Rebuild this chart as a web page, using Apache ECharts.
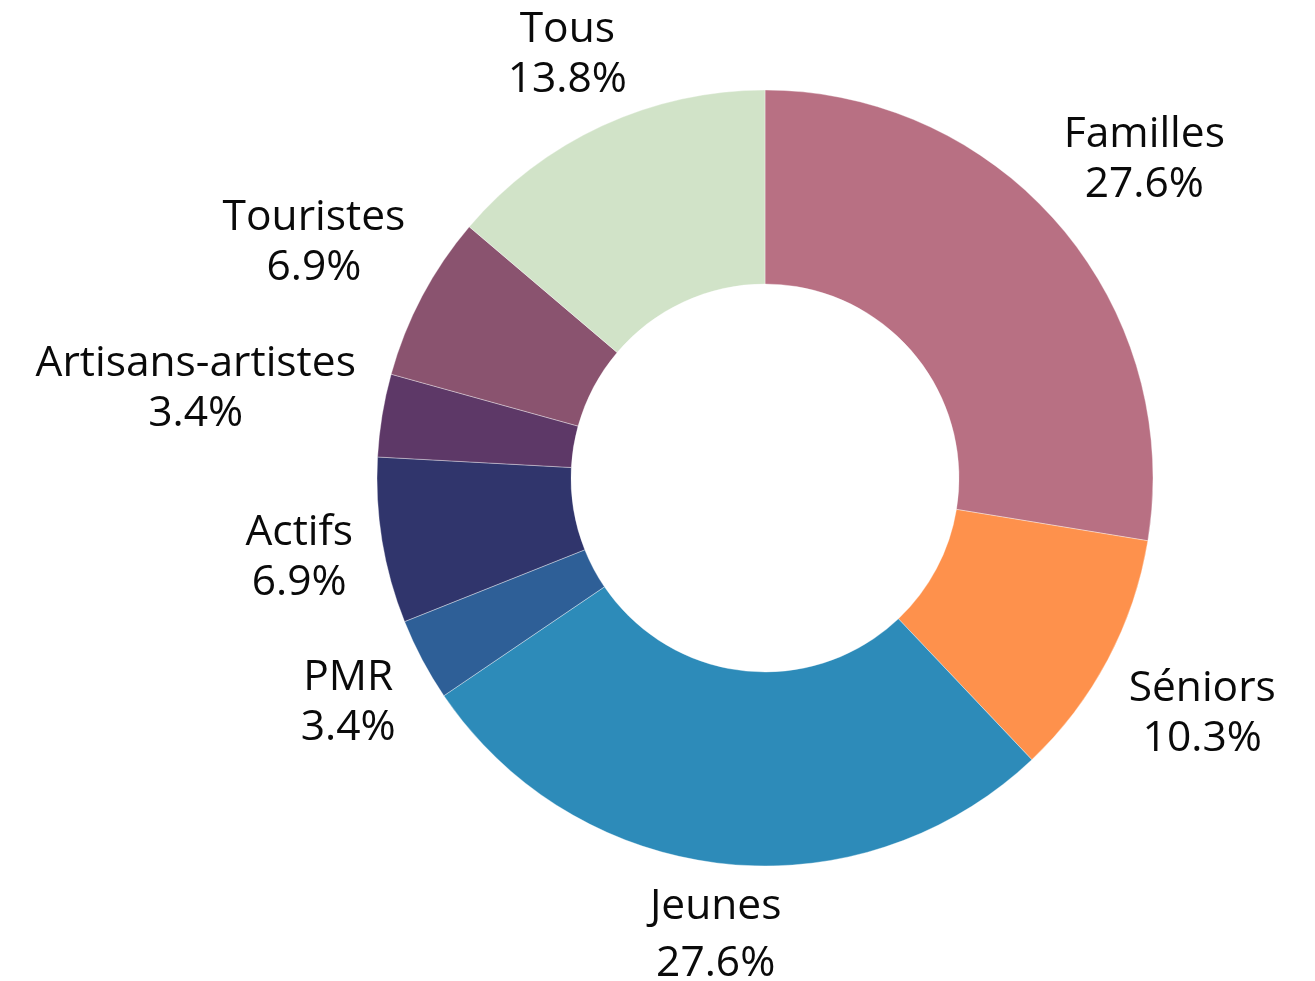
<!DOCTYPE html>
<html>
<head>
<meta charset="utf-8">
<script src="https://cdn.jsdelivr.net/npm/echarts@6/dist/echarts.min.js"></script>
<style>
  html, body { margin: 0; padding: 0; background: #fff; }
  #chart { width: 1315px; height: 981px; }
</style>
</head>
<body>
<div id="chart"></div>
<script>
// slices, clockwise from 12 o'clock
const categories = ['Familles', 'Séniors', 'Jeunes', 'PMR', 'Actifs', 'Artisans-artistes', 'Touristes', 'Tous']
const values = [8, 3, 8, 1, 2, 1, 2, 4]
const colors = ['#b87083', '#fe914c', '#2d8bb9', '#2e5f97', '#30356c', '#5d3867', '#8a536f', '#d1e3c8']

const cx = 765
const cy = 478
const rOuter = 388
const rInner = 194
const labelGap = 25

const total = values.reduce((a, b) => a + b, 0)

// mid angle of each slice, radians, clockwise from top
const midAngles = []
let acc = 0
for (let i = 0; i < values.length; i++) {
  midAngles.push((acc + values[i] / 2) / total * Math.PI * 2)
  acc += values[i]
}

const chart = echarts.init(document.getElementById('chart'))

chart.setOption({
  animation: false,
  series: [{
    type: 'pie',
    center: [cx, cy],
    radius: [rInner, rOuter],
    startAngle: 90,
    clockwise: true,
    avoidLabelOverlap: false,
    itemStyle: {
      borderColor: 'rgba(255,255,255,0.6)',
      borderWidth: 0.6
    },
    label: {
      show: true,
      position: 'outside',
      fontFamily: 'Open Sans',
      fontSize: 42.5,
      lineHeight: 50,
      color: '#0a0a0a',
      formatter: function(p) {
        return p.name + '\n' + (p.value / total * 100).toFixed(1) + '%'
      }
    },
    labelLine: { show: false },
    // put each label box just outside the ring, along the slice's mid angle
    labelLayout: function(p) {
      const a = midAngles[p.dataIndex]
      const ux = Math.sin(a)
      const uy = -Math.cos(a)
      const w = p.labelRect.width / 2
      const h = 36
      const d = rOuter + labelGap + w * Math.abs(ux) + h * Math.abs(uy)
      return {
        x: cx + d * ux,
        y: cy + d * uy + 4,
        align: 'center',
        verticalAlign: 'middle'
      }
    },
    data: categories.map((name, i) => {
      const item = { name: name, value: values[i], itemStyle: { color: colors[i] } }
      if (name === 'Jeunes') item.label = { lineHeight: 57 }
      return item
    })
  }]
})
</script>
</body>
</html>
